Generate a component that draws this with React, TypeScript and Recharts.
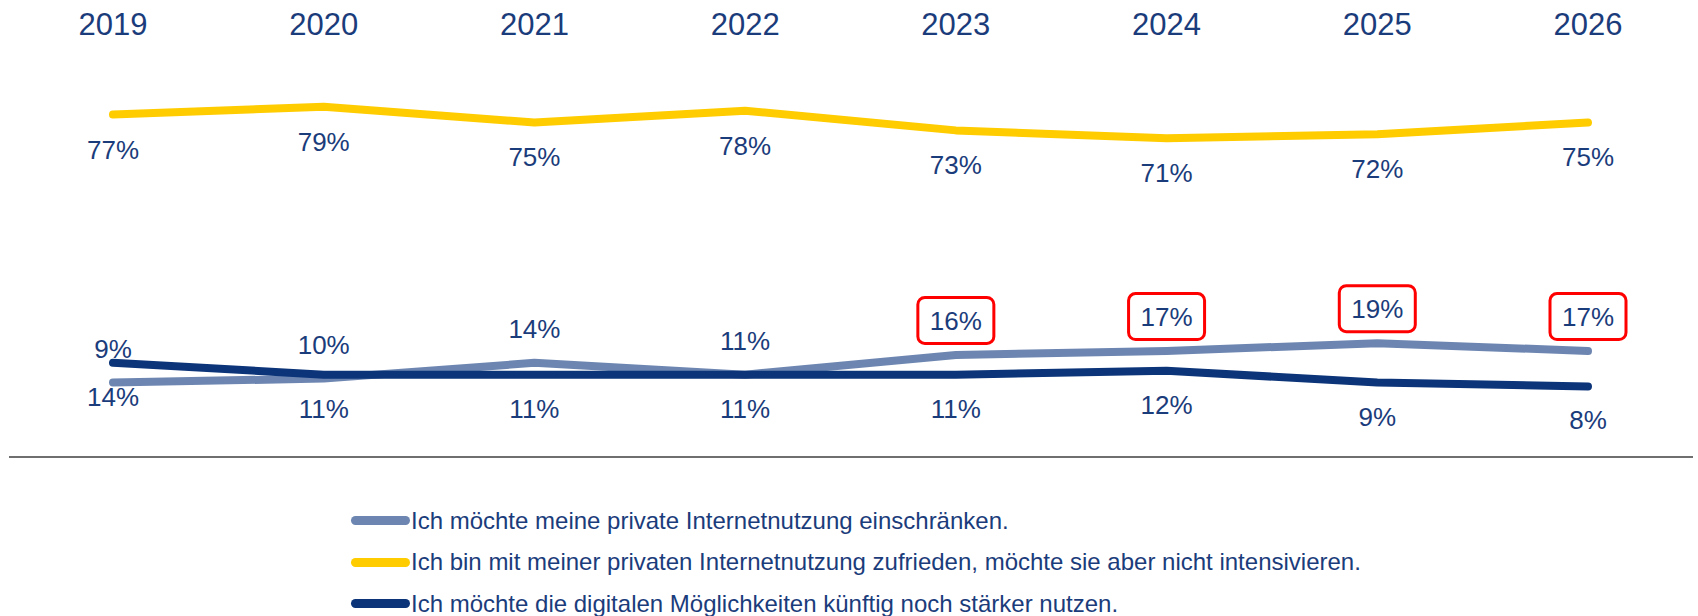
import React from 'react';
import { LineChart, Line, XAxis, YAxis, LabelList } from 'recharts';

const years = ['2019', '2020', '2021', '2022', '2023', '2024', '2025', '2026'];
const einschraenken = [9, 10, 14, 11, 16, 17, 19, 17];
const zufrieden = [77, 79, 75, 78, 73, 71, 72, 75];
const staerker = [14, 11, 11, 11, 11, 12, 9, 8];
const highlighted = [false, false, false, false, true, true, true, true];

const seriesNames = [
  'Ich möchte meine private Internetnutzung einschränken.',
  'Ich bin mit meiner privaten Internetnutzung zufrieden, möchte sie aber nicht intensivieren.',
  'Ich möchte die digitalen Möglichkeiten künftig noch stärker nutzen.',
];
const seriesKeys = ['einschraenken', 'zufrieden', 'staerker'];
const seriesColors = ['#6D86B1', '#FFCC00', '#0B3479'];

const data = years.map((year, i) => ({
  year,
  einschraenken: einschraenken[i],
  zufrieden: zufrieden[i],
  staerker: staerker[i],
  hl: highlighted[i],
}));

const FONT = '"Liberation Sans", Arial, sans-serif';
const TEXT = '#1B3C7B';

const makeLabel = (dy: number, withBox: boolean) => (props: any) => {
  const { x, y, value, index } = props;
  if (x == null || y == null) return null;
  const base = y + dy;
  const center = base - 9.5;
  const box = withBox && highlighted[index];
  return (
    <g>
      {box && (
        <rect
          x={x - 38}
          y={center - 23}
          width={76}
          height={46}
          rx={7}
          ry={7}
          fill="#fff"
          stroke="#FF0000"
          strokeWidth={3}
        />
      )}
      <text x={x} y={base} textAnchor="middle" fontSize={26} fontFamily={FONT} fill={TEXT}>
        {value}%
      </text>
    </g>
  );
};

const YearTick = (props: any) => {
  const { x, y, payload } = props;
  return (
    <text x={x} y={y + 19} textAnchor="middle" fontSize={31} fontFamily={FONT} fill={TEXT}>
      {payload.value}
    </text>
  );
};

export default function App() {
  return (
    <div style={{ position: 'absolute', left: 0, top: 0, width: 1698, height: 616, background: '#fff', overflow: 'hidden' }}>
      <LineChart
        width={1698}
        height={470}
        data={data}
        margin={{ top: 2, right: 5, bottom: 11, left: 9 }}
      >
        <XAxis
          xAxisId="top"
          orientation="top"
          dataKey="year"
          height={22}
          axisLine={false}
          tickLine={false}
          tick={<YearTick />}
          padding={{ left: 104, right: 105 }}
          interval={0}
        />
        <XAxis
          xAxisId="bottom"
          orientation="bottom"
          dataKey="year"
          height={2}
          tick={false}
          tickLine={false}
          axisLine={{ stroke: '#6F6F6F', strokeWidth: 2 }}
          padding={{ left: 104, right: 105 }}
        />
        <YAxis hide type="number" domain={[-9.9, 100]} allowDataOverflow />
        <Line
          xAxisId="bottom"
          type="linear"
          dataKey="einschraenken"
          stroke={seriesColors[0]}
          strokeWidth={8}
          strokeLinecap="round"
          strokeLinejoin="round"
          dot={false}
          activeDot={false}
          isAnimationActive={false}
        >
          <LabelList dataKey="einschraenken" content={makeLabel(-25, true)} />
        </Line>
        <Line
          xAxisId="bottom"
          type="linear"
          dataKey="zufrieden"
          stroke={seriesColors[1]}
          strokeWidth={8}
          strokeLinecap="round"
          strokeLinejoin="round"
          dot={false}
          activeDot={false}
          isAnimationActive={false}
        >
          <LabelList dataKey="zufrieden" content={makeLabel(44, false)} />
        </Line>
        <Line
          xAxisId="bottom"
          type="linear"
          dataKey="staerker"
          stroke={seriesColors[2]}
          strokeWidth={8}
          strokeLinecap="round"
          strokeLinejoin="round"
          dot={false}
          activeDot={false}
          isAnimationActive={false}
        >
          <LabelList dataKey="staerker" content={makeLabel(43, false)} />
        </Line>
      </LineChart>
      <div style={{ position: 'absolute', left: 351, top: 500, fontFamily: FONT }}>
        {seriesKeys.map((k, i) => (
          <div key={k} style={{ display: 'flex', alignItems: 'center', height: 41.5 }}>
            <div style={{ width: 59, height: 9, borderRadius: 5, background: seriesColors[i], flexShrink: 0 }} />
            <span style={{ fontSize: 24, color: TEXT, marginLeft: 1, whiteSpace: 'nowrap' }}>{seriesNames[i]}</span>
          </div>
        ))}
      </div>
    </div>
  );
}
